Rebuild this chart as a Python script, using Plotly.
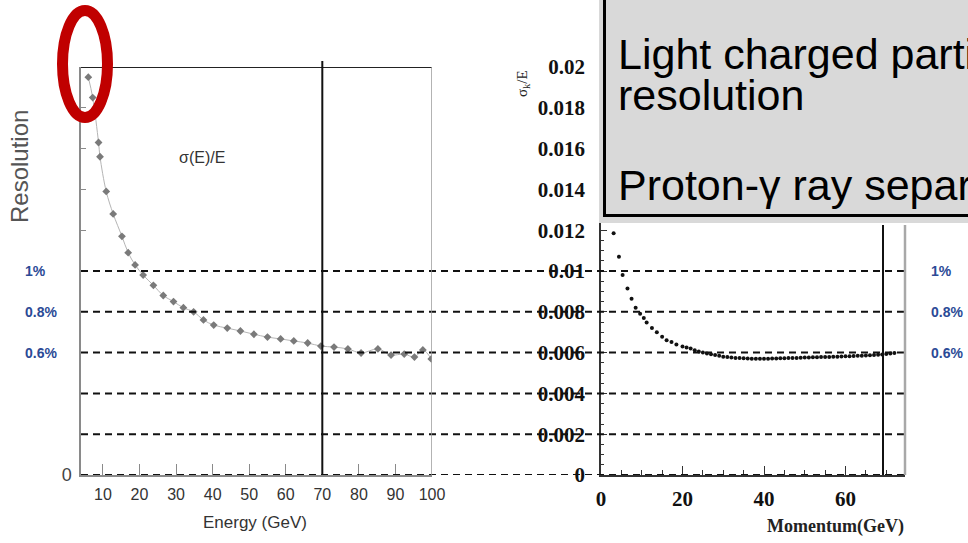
import plotly.graph_objects as go

W, H = 968, 543

# ---- data: left chart (energy resolution, %) ----
energy_gev = [6.0, 7.2, 8.8, 9.2, 10.9, 12.8, 15.2, 16.9, 18.8, 21.0, 23.8, 26.5, 29.3, 32.0,
              34.8, 37.5, 40.3, 44.0, 47.6, 51.3, 55.0, 58.6, 62.2, 66.0, 69.6, 73.2, 77.0,
              80.6, 85.2, 88.8, 92.4, 95.2, 97.5, 99.8]
energy_res_pct = [1.95, 1.85, 1.63, 1.56, 1.39, 1.28, 1.17, 1.09, 1.03, 0.98, 0.93, 0.88, 0.85, 0.82,
                  0.80, 0.76, 0.735, 0.72, 0.706, 0.69, 0.676, 0.667, 0.657, 0.647, 0.632, 0.627, 0.618,
                  0.598, 0.618, 0.588, 0.593, 0.578, 0.613, 0.569]

# ---- data: right chart (momentum resolution) ----
momentum_gev = [3.1, 4.4, 5.3, 6.5, 7.5, 8.5, 9.6, 10.5, 11.2, 12.5, 13.7, 15.0, 16.1, 17.3, 18.5,
                20, 21, 22, 23, 24, 25, 26, 27, 28, 29, 30, 31, 32, 33, 34, 35, 36, 37, 38, 39, 40,
                41, 42, 43, 44, 45, 46, 47, 48, 49, 50, 51, 52, 53, 54, 55, 56, 57, 58, 59, 60,
                61, 62, 63, 64, 65, 66, 67, 68, 69, 70, 71, 72]
momentum_res = [0.01185, 0.0107, 0.0098, 0.00914, 0.00864, 0.0082, 0.0079, 0.0077, 0.00748, 0.0072,
                0.0070, 0.00678, 0.0066, 0.00652, 0.0064,
                0.0063, 0.00625, 0.0062, 0.00612, 0.00605, 0.006, 0.00596, 0.00592, 0.00588, 0.00584,
                0.0058, 0.00578, 0.00576, 0.00574, 0.00573, 0.00572, 0.00571, 0.0057, 0.0057, 0.0057,
                0.0057, 0.0057, 0.00571, 0.00571, 0.00572, 0.00572, 0.00573, 0.00573, 0.00574, 0.00575,
                0.00576, 0.00576, 0.00577, 0.00577, 0.00578, 0.00579, 0.00579, 0.0058, 0.0058, 0.00581,
                0.00582, 0.00582, 0.00583, 0.00584, 0.00585, 0.00586, 0.00587, 0.00588, 0.0059, 0.00591,
                0.00593, 0.00595, 0.00598]

left_xticks = [10, 20, 30, 40, 50, 60, 70, 80, 90, 100]
left_yticks = [0, 0.2, 0.4, 0.6, 0.8, 1.0, 1.2, 1.4, 1.6, 1.8, 2.0]
left_yticktext = ["0"] + [" "] * 10
right_xticks = [0, 20, 40, 60]
right_yticks = [0, 0.002, 0.004, 0.006, 0.008, 0.01, 0.012, 0.014, 0.016, 0.018, 0.02]
right_yticktext = ["0", "0.002", "0.004", "0.006", "0.008", "0.01", "0.012", "0.014", "0.016", "0.018", "0.02"]
dashed_levels_pct = [0, 0.2, 0.4, 0.6, 0.8, 1.0]
pct_labels = ["1%", "0.8%", "0.6%"]
pct_label_levels = [1.0, 0.8, 0.6]
cut_energy = 70
cut_momentum = 69.2

def px(x):
    return x / W

def py(y):
    return 1 - y / H

SANS = "Liberation Sans, Arial, sans-serif"
SERIF = "Liberation Serif, Times New Roman, serif"
BLUE = "#2b4a96"

fig = go.Figure()

fig.add_trace(go.Scatter(x=energy_gev, y=energy_res_pct, mode="lines", line=dict(color="#b5b5b5", width=1, shape="spline"),
                         xaxis="x", yaxis="y", hoverinfo="skip", showlegend=False))
fig.add_trace(go.Scatter(x=energy_gev, y=energy_res_pct, mode="markers",
                         marker=dict(symbol="diamond", size=6, color="#7a7a7a"),
                         xaxis="x", yaxis="y", showlegend=False))
fig.add_trace(go.Scatter(x=momentum_gev, y=momentum_res, mode="markers",
                         marker=dict(size=4, color="#111111"),
                         xaxis="x2", yaxis="y2", showlegend=False))

ydom = [py(475), py(67)]

fig.update_layout(
    width=W, height=H, margin=dict(l=0, r=0, t=0, b=0, autoexpand=False),
    paper_bgcolor="white", plot_bgcolor="rgba(0,0,0,0)",
    showlegend=False,
    xaxis=dict(domain=[px(81), px(432)], range=[4, 100], anchor="y", automargin=False,
               showline=True, linecolor="#8a8a8a", linewidth=1.5,
               ticks="inside", ticklen=11, tickcolor="#8a8a8a", tickwidth=1.2,
               tickvals=left_xticks, showgrid=False, zeroline=False, ticklabelstandoff=4,
               tickfont=dict(family=SANS, size=16, color="#333333")),
    yaxis=dict(domain=ydom, range=[0, 2], anchor="x", automargin=False,
               showline=True, linecolor="#8a8a8a", linewidth=1.5,
               ticks="inside", ticklen=5, tickcolor="#8a8a8a",
               tickvals=left_yticks, ticktext=left_yticktext, showgrid=False, zeroline=False,
               ticklabelstandoff=4,
               tickfont=dict(family=SANS, size=18, color="#444444")),
    xaxis2=dict(domain=[px(601), px(905)], range=[0, 74.6], anchor="y2", automargin=False,
                showline=True, linecolor="#333333", linewidth=1.5,
                ticks="inside", ticklen=9, tickcolor="#333333",
                tickvals=right_xticks, showgrid=False, zeroline=False, ticklabelstandoff=4,
                minor=dict(dtick=5, ticks="inside", ticklen=5, tickcolor="#333333"),
                tickfont=dict(family=SERIF, size=21, color="#111111", weight="bold")),
    yaxis2=dict(domain=ydom, range=[0, 0.02], anchor="x2", automargin=False,
                showline=True, linecolor="#333333", linewidth=1.5,
                ticks="inside", ticklen=6, tickcolor="#333333",
                tickvals=right_yticks, ticktext=right_yticktext, showgrid=False, zeroline=False,
                ticklabelstandoff=10,
                minor=dict(dtick=0.0005, ticks="inside", ticklen=3, tickcolor="#333333"),
                tickfont=dict(family=SERIF, size=21, color="#111111", weight="bold")),
)

shapes = []
# dashed reference levels spanning both charts
for lv in dashed_levels_pct:
    shapes.append(dict(type="line", xref="paper", yref="y", x0=px(81), x1=px(905), y0=lv, y1=lv,
                       line=dict(color="#111111", width=2, dash="7px,5px"), layer="above"))
# left frame top and right border
shapes.append(dict(type="line", xref="x", yref="y", x0=4, x1=100, y0=2, y1=2,
                   line=dict(color="#222222", width=2)))
shapes.append(dict(type="line", xref="x", yref="y", x0=100, x1=100, y0=0, y1=2,
                   line=dict(color="#9a9a9a", width=1.5)))
# cut lines
shapes.append(dict(type="line", xref="x", yref="paper", x0=cut_energy, x1=cut_energy, y0=py(475), y1=py(61),
                   line=dict(color="#111111", width=2)))
shapes.append(dict(type="line", xref="x2", yref="paper", x0=cut_momentum, x1=cut_momentum, y0=py(475), y1=py(225),
                   line=dict(color="#111111", width=2)))
# right chart right border
shapes.append(dict(type="line", xref="paper", yref="paper", x0=px(905), x1=px(905), y0=py(475), y1=py(225),
                   line=dict(color="#a8a8a8", width=2.5)))
# text box (gray halo + bordered box)
shapes.append(dict(type="rect", xref="paper", yref="paper", x0=px(599), x1=px(975), y0=py(223), y1=py(-10),
                   fillcolor="#d9d9d9", line=dict(width=0), layer="above"))
shapes.append(dict(type="rect", xref="paper", yref="paper", x0=px(604.5), x1=px(980), y0=py(215.5), y1=py(-10),
                   fillcolor="#d9d9d9", line=dict(color="#000000", width=3), layer="above"))
# red ellipse highlight
shapes.append(dict(type="circle", xref="paper", yref="paper", x0=px(62.5), x1=px(107.5), y0=py(117.5), y1=py(10.5),
                   line=dict(color="#c00000", width=11), layer="above"))
fig.update_layout(shapes=shapes)

ann = []
def note(text, x, y, size, color, family=SANS, xanchor="center", yanchor="middle", angle=0, yref="paper"):
    ann.append(dict(text=text, x=x, y=y, xref="paper", yref=yref, showarrow=False,
                    xanchor=xanchor, yanchor=yanchor, textangle=angle,
                    font=dict(family=family, size=size, color=color)))

note("Resolution", px(19), py(167), 24, "#555555", angle=-90)
note("σ(E)/E", px(202), py(158), 16, "#333333")
note("Energy (GeV)", px(255), py(522), 17, "#333333")
for lab, lv in zip(pct_labels, pct_label_levels):
    note("<b>%s</b>" % lab, px(23), lv, 14, BLUE, xanchor="left", yref="y")
    note("<b>%s</b>" % lab, px(929), lv, 14, BLUE, xanchor="left", yref="y")
note("σ<sub>k</sub>/E", px(523), py(84), 15, "#222222", family=SERIF, angle=-90)
note("<b>Momentum(GeV)</b>", px(906), py(526), 18, "#222222", family=SERIF, xanchor="right")
box_lines = [("Light charged particle energy", 54), ("resolution", 95), ("Proton-γ ray separation", 185)]
for t, yc in box_lines:
    note(t, px(616), py(yc), 43, "#000000", xanchor="left")
fig.update_layout(annotations=ann)

fig.write_html("out.html", config={"displayModeBar": False},
               post_script="document.body.style.margin='0';document.body.style.padding='0';"
                           "document.body.style.overflow='hidden';")
